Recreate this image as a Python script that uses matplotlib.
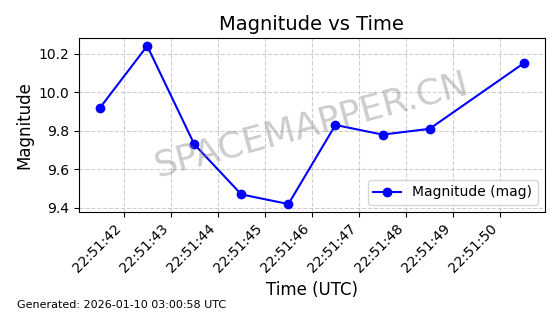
import numpy as np
import pandas as pd
import matplotlib
matplotlib.use("Agg")
import matplotlib.pyplot as plt
import matplotlib.dates as mdates

# observation times (UTC) and magnitudes
times = ["2026-01-09 22:51:41.5", "2026-01-09 22:51:42.5", "2026-01-09 22:51:43.5",
         "2026-01-09 22:51:44.5", "2026-01-09 22:51:45.5", "2026-01-09 22:51:46.5",
         "2026-01-09 22:51:47.5", "2026-01-09 22:51:48.5", "2026-01-09 22:51:50.5"]
magnitude = [9.92, 10.24, 9.73, 9.47, 9.42, 9.83, 9.78, 9.81, 10.15]
generated = "Generated: 2026-01-10 03:00:58 UTC"

t = pd.to_datetime(times)

fig, ax = plt.subplots(figsize=(5.6, 3.14), dpi=100)
ax.plot(t, magnitude, '-o', color='blue', label='Magnitude (mag)', markersize=6)

ax.set_title('Magnitude vs Time', fontsize=14)
ax.set_xlabel('Time (UTC)', fontsize=12)
ax.set_ylabel('Magnitude', fontsize=12)
ax.grid(True, linestyle='--', alpha=0.6)
ax.xaxis.set_major_locator(mdates.SecondLocator())
ax.xaxis.set_major_formatter(mdates.DateFormatter('%H:%M:%S'))
plt.setp(ax.get_xticklabels(), rotation=45, ha='right')
ax.legend(loc='lower right')

# watermark
ax.text(0.5, 0.5, 'SPACEMAPPER.CN', transform=ax.transAxes, fontsize=26,
        color='gray', alpha=0.4, rotation=15, ha='center', va='center')

fig.text(0.03, 0.02, generated, fontsize=8)
fig.subplots_adjust(left=0.141, right=0.973, top=0.879, bottom=0.325)
plt.savefig("out.png", dpi=100)
